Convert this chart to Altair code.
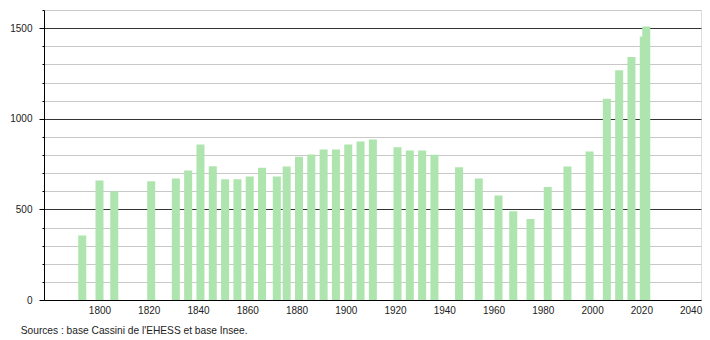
import altair as alt
import pandas as pd

years = [1793, 1800, 1806, 1821, 1831, 1836, 1841, 1846, 1851, 1856, 1861, 1866,
         1872, 1876, 1881, 1886, 1891, 1896, 1901, 1906, 1911, 1921, 1926, 1931,
         1936, 1946, 1954, 1962, 1968, 1975, 1982, 1990, 1999, 2006, 2011, 2016,
         2021, 2022]
population = [356, 659, 600, 655, 670, 714, 858, 738, 666, 666, 681, 729,
              681, 736, 791, 803, 830, 830, 858, 875, 886, 843, 825, 825,
              801, 732, 670, 577, 489, 447, 624, 736, 819, 1111, 1267, 1341,
              1454, 1509]
x_ticks = list(range(1800, 2041, 20))
y_ticks = list(range(0, 1601, 100))
source = "Sources : base Cassini de l'EHESS et base Insee."

df = pd.DataFrame({"annee": years, "pop": population})

FONT = "Liberation Sans"

chart = alt.Chart(df).mark_bar(size=8, color="#aee4ae").encode(
    x=alt.X("annee:Q",
            scale=alt.Scale(domain=[1779.5, 2042.2], nice=False, zero=False),
            axis=alt.Axis(values=x_ticks, format="d", title=None, grid=False,
                          ticks=False, labelPadding=5, domainColor="#000",
                          labelColor="#222", labelFont=FONT, labelFontSize=10)),
    y=alt.Y("pop:Q",
            scale=alt.Scale(domain=[0, 1600], nice=False),
            axis=alt.Axis(values=y_ticks, format="d", title=None, grid=True,
                          gridColor={"condition": {"test": "datum.value % 500 === 0 && datum.value > 0", "value": "#333333"}, "value": "#c8c8c8"},
                          gridWidth=1,
                          tickColor="#000",
                          tickSize={"condition": {"test": "datum.value % 500 === 0", "value": 5}, "value": 2},
                          labelExpr="datum.value % 500 === 0 ? datum.label : ''",
                          labelPadding=7, domainColor="#000",
                          labelColor="#222", labelFont=FONT, labelFontSize=10)),
).properties(
    width=657,
    height=290,
    autosize=alt.AutoSizeParams(type="none"),
    padding={"left": 44, "top": 10, "right": 9, "bottom": 40},
    title=alt.TitleParams(source, orient="bottom", anchor="start", dx=11,
                          offset=11, font=FONT, fontSize=10.2, fontWeight="normal",
                          color="#222"),
).configure_view(stroke=None).configure(background="white")

chart.save("out.html", embed_options={"renderer": "svg", "actions": False})
